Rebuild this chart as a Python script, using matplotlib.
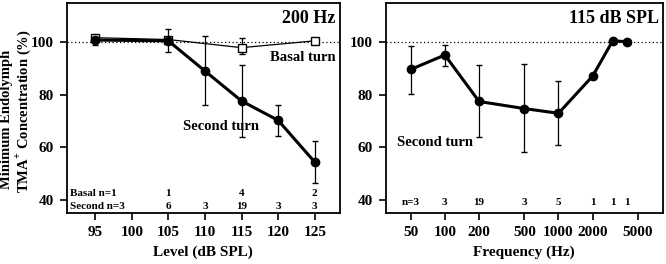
import matplotlib.pyplot as plt
import matplotlib.ticker as mticker

plt.rcParams['font.family'] = ['Liberation Serif', 'DejaVu Serif']
plt.rcParams['font.weight'] = 'bold'
plt.rcParams['mathtext.fontset'] = 'custom'
plt.rcParams['mathtext.bf'] = 'Liberation Serif:bold'
plt.rcParams['mathtext.rm'] = 'Liberation Serif:bold'

# left panel: 200 Hz, level series
level = [95, 105, 110, 115, 120, 125]
second_mean = [100.9, 100.6, 89.1, 77.7, 70.3, 54.4]
second_lo = [99.2, 96.5, 76.0, 64.0, 64.3, 46.6]
second_hi = [101.8, 105.0, 102.5, 91.3, 76.1, 62.4]
second_n = ['6', '3', '19', '3', '3']
second_n_x = [105, 110, 115, 120, 125]

basal_level = [95, 105, 115, 125]
basal_mean = [101.8, 101.1, 98.0, 100.6]
basal_lo = [101.8, 101.1, 95.4, 100.6]
basal_hi = [101.8, 101.1, 101.8, 100.6]
basal_n = ['1', '4', '2']
basal_n_x = [105, 115, 125]

# right panel: 115 dB SPL, frequency series
freq = [50, 100, 200, 500, 1000, 2000, 3000, 4000]
freq_mean = [89.7, 95.2, 77.5, 74.8, 73.0, 87.2, 100.6, 100.3]
freq_lo = [80.5, 90.9, 64.1, 58.1, 61.1, 87.2, 100.6, 100.3]
freq_hi = [98.7, 99.2, 91.3, 91.6, 85.2, 87.2, 100.6, 100.3]
freq_n = ['n=3', '3', '19', '3', '5', '1', '1', '1']

fig = plt.figure(figsize=(6.66, 2.64), dpi=100)
ax1 = fig.add_axes([0.1, 0.193, 0.41, 0.7955])
ax2 = fig.add_axes([0.579, 0.193, 0.416, 0.7955])

def errs(mean, lo, hi):
    return [[m - l for m, l in zip(mean, lo)], [h - m for m, h in zip(mean, hi)]]

# left panel
ax1.axhline(100, color='black', lw=0.9, ls=(0, (1, 2)), zorder=1)
ax1.errorbar(basal_level, basal_mean, yerr=errs(basal_mean, basal_lo, basal_hi),
             color='black', lw=0.9, marker='s', ms=5.5, mfc='white', mec='black',
             mew=1.0, capsize=2.5, elinewidth=0.9, zorder=2)
ax1.errorbar(level, second_mean, yerr=errs(second_mean, second_lo, second_hi),
             color='black', lw=2.2, marker='o', ms=6, capsize=2.5, elinewidth=0.9, zorder=3)
ax1.set_xlim(91.1, 128.4)
ax1.set_ylim(35, 115)
ax1.set_xticks([95, 100, 105, 110, 115, 120, 125])
ax1.set_yticks([40, 60, 80, 100])
ax1.set_xlabel('Level (dB SPL)', fontsize=11, fontweight='bold', labelpad=5)
ax1.text(0.985, 0.965, '200 Hz', transform=ax1.transAxes, ha='right', va='top',
         fontsize=13, fontweight='bold')
ax1.text(127.9, 94.2, 'Basal turn', ha='right', va='center', fontsize=10.5, fontweight='bold')
ax1.text(112.2, 67.8, 'Second turn', ha='center', va='center', fontsize=10.5, fontweight='bold')
ax1.text(91.5, 42.3, 'Basal n=1', ha='left', va='center', fontsize=8, fontweight='bold')
ax1.text(91.5, 37.6, 'Second n=3', ha='left', va='center', fontsize=8, fontweight='bold')
for x, t in zip(basal_n_x, basal_n):
    ax1.text(x, 42.3, t, ha='center', va='center', fontsize=8, fontweight='bold')
for x, t in zip(second_n_x, second_n):
    ax1.text(x, 37.6, t, ha='center', va='center', fontsize=8, fontweight='bold')

# y label, two lines aligned at the bottom
fig.text(0.010, 0.285, 'Minimum Endolymph', rotation=90, ha='center', va='bottom',
         fontsize=10.5, fontweight='bold')
fig.text(0.035, 0.268, 'TMA$^{\\mathbf{+}}$ Concentration (%)', rotation=90, ha='center',
         va='bottom', fontsize=10.5, fontweight='bold')

# right panel
ax2.axhline(100, color='black', lw=0.9, ls=(0, (1, 2)), zorder=1)
ax2.errorbar(freq, freq_mean, yerr=errs(freq_mean, freq_lo, freq_hi),
             color='black', lw=2.2, marker='o', ms=6, capsize=2.5, elinewidth=0.9, zorder=3)
ax2.set_xscale('log')
ax2.set_xlim(30.1, 8260)
ax2.set_ylim(35, 115)
ax2.set_xticks([50, 100, 200, 500, 1000, 2000, 5000])
ax2.xaxis.set_major_formatter(mticker.FuncFormatter(lambda v, p: '%d' % v))
ax2.xaxis.set_minor_locator(mticker.NullLocator())
ax2.set_yticks([40, 60, 80, 100])
ax2.set_xlabel('Frequency (Hz)', fontsize=11, fontweight='bold', labelpad=5)
ax2.text(0.985, 0.965, '115 dB SPL', transform=ax2.transAxes, ha='right', va='top',
         fontsize=13, fontweight='bold')
ax2.text(0.04, 0.335, 'Second turn', transform=ax2.transAxes, ha='left', va='center',
         fontsize=10.5, fontweight='bold')
for x, t in zip(freq, freq_n):
    ax2.text(x, 39.0, t, ha='center', va='center', fontsize=8, fontweight='bold')

for ax in (ax1, ax2):
    for s in ax.spines.values():
        s.set_linewidth(1.3)
    ax.tick_params(direction='out', length=5, width=1.2, labelsize=11, pad=4)
    for lab in ax.get_xticklabels() + ax.get_yticklabels():
        lab.set_fontweight('bold')

fig.savefig('out.png', dpi=100)
